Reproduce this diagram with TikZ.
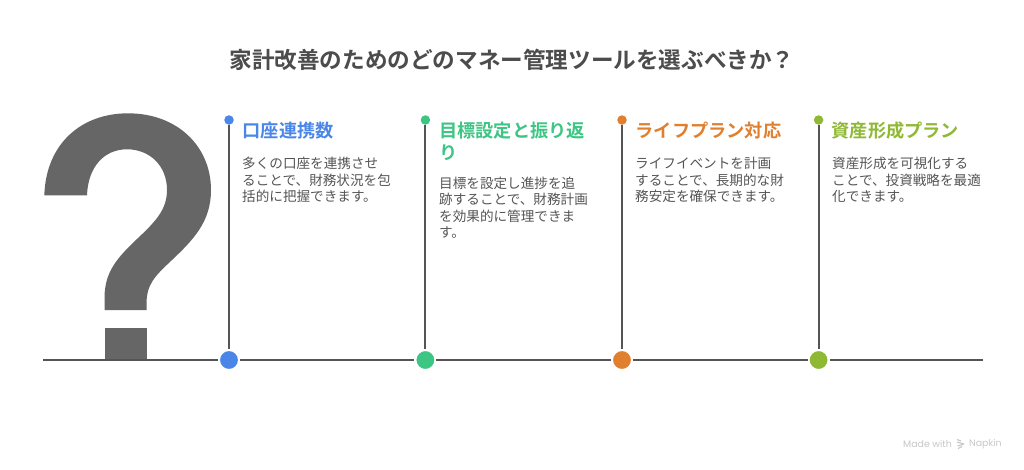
\documentclass[tikz,border=0pt]{standalone}
\usepackage{fontspec}
\setmainfont{Noto Sans CJK JP}[BoldFont={Noto Sans CJK JP Bold}]
\setsansfont{Poppins}
\usepackage{xcolor}
\usetikzlibrary{positioning, calc}
\definecolor{ink}{HTML}{555555}
\definecolor{markgray}{HTML}{666666}
\definecolor{accountblue}{HTML}{4A86E8}
\definecolor{goalgreen}{HTML}{3CC583}
\definecolor{lifeorange}{HTML}{E07F2E}
\definecolor{assetlime}{HTML}{8FB935}
\tikzset{
	title-node/.style={
		font=\fontsize{22.6}{27}\selectfont\bfseries,
		text=ink!90!black,
		inner sep=0pt,
		anchor=center
	},
	head-node/.style={
		font=\fontsize{18.2}{21.5}\selectfont\bfseries,
		align=left,
		inner sep=0pt,
		anchor=north west
	},
	body-node/.style={
		font=\fontsize{13.6}{16.6}\selectfont,
		text=ink,
		align=left,
		inner sep=0pt,
		anchor=north west
	},
	foot-node/.style={
		inner sep=0pt,
		anchor=west,
		text=black!22,
		font=\sffamily\fontsize{9.4}{11}\selectfont
	},
	big-dot/.style={circle, minimum size=20pt, inner sep=0pt, draw=white, line width=2pt},
	small-dot/.style={circle, minimum size=9.5pt, inner sep=0pt},
	edge-style/.style={line width=2pt, draw=ink},
}
\begin{document}
\begin{tikzpicture}[x=1pt,y=-1pt]
	\useasboundingbox (0,0) rectangle (1024,469);
	\fill[white] (0,0) rectangle (1024,469);
	\node (title) [title-node] at (512,60) {家計改善のためのどのマネー管理ツールを選ぶべきか？};
	% question mark
	\fill[markgray] (44.3,195.3) .. controls (46,143) and (82,113.3) .. (128,113.3)
		.. controls (177,113.3) and (211,146) .. (211,190)
		.. controls (211,222) and (193,240) .. (172,260)
		.. controls (155,276) and (146.5,284) .. (146.5,304)
		-- (146.5,310) -- (104.5,310) -- (104.5,298)
		.. controls (104.5,272) and (117,258) .. (137,239)
		.. controls (155,222) and (167,210) .. (167,190)
		.. controls (167,166) and (150,149.3) .. (127,149.3)
		.. controls (104,149.3) and (88,167) .. (87,195.3) -- cycle;
	\fill[markgray] (104.5,328) rectangle (146.5,359.5);
	% base line
	\coordinate (base-start) at (43,360);
	\coordinate (base-end) at (983,360);
	\node (d1) [big-dot, fill=accountblue] at (229,360) {};
	\node (d2) [big-dot, fill=goalgreen] at (425.4,360) {};
	\node (d3) [big-dot, fill=lifeorange] at (622,360) {};
	\node (d4) [big-dot, fill=assetlime] at (818.6,360) {};
	\node (t1) [small-dot, fill=accountblue] at (229,120) {};
	\node (t2) [small-dot, fill=goalgreen] at (425.4,120) {};
	\node (t3) [small-dot, fill=lifeorange] at (622,120) {};
	\node (t4) [small-dot, fill=assetlime] at (818.6,120) {};
	\draw[edge-style] (base-start) -- (d1) -- (d2) -- (d3) -- (d4) -- (base-end);
	\draw[edge-style] (t1) -- (d1);
	\draw[edge-style] (t2) -- (d2);
	\draw[edge-style] (t3) -- (d3);
	\draw[edge-style] (t4) -- (d4);
	% texts
	\node (h1) [head-node, text=accountblue] at (242.5,122) {口座連携数};
	\node (b1) [body-node] at (242,157) {多くの口座を連携させ\\ることで、財務状況を包\\括的に把握できます。};
	\node (h2) [head-node, text=goalgreen] at (439,122) {目標設定と振り返\\り};
	\node (b2) [body-node] at (439,176.5) {目標を設定し進捗を追\\跡することで、財務計画\\を効果的に管理できま\\す。};
	\node (h3) [head-node, text=lifeorange] at (635.5,122) {ライフプラン対応};
	\node (b3) [body-node] at (635,157) {ライフイベントを計画\\することで、長期的な財\\務安定を確保できます。};
	\node (h4) [head-node, text=assetlime] at (831.5,122) {資産形成プラン};
	\node (b4) [body-node] at (832,157) {資産形成を可視化する\\ことで、投資戦略を最適\\化できます。};
	% footer
	\node (made) [foot-node] at (903,444) {Made with};
	\node (napkin) [foot-node] at (969,444) {Napkin};
	\draw[black!22, line width=1.1pt] (957,439.5) -- (961,441) (957,442) -- (964,444) (957.5,446) -- (964,444) (958,448.5) -- (962,446.5);
\end{tikzpicture}
\end{document}
